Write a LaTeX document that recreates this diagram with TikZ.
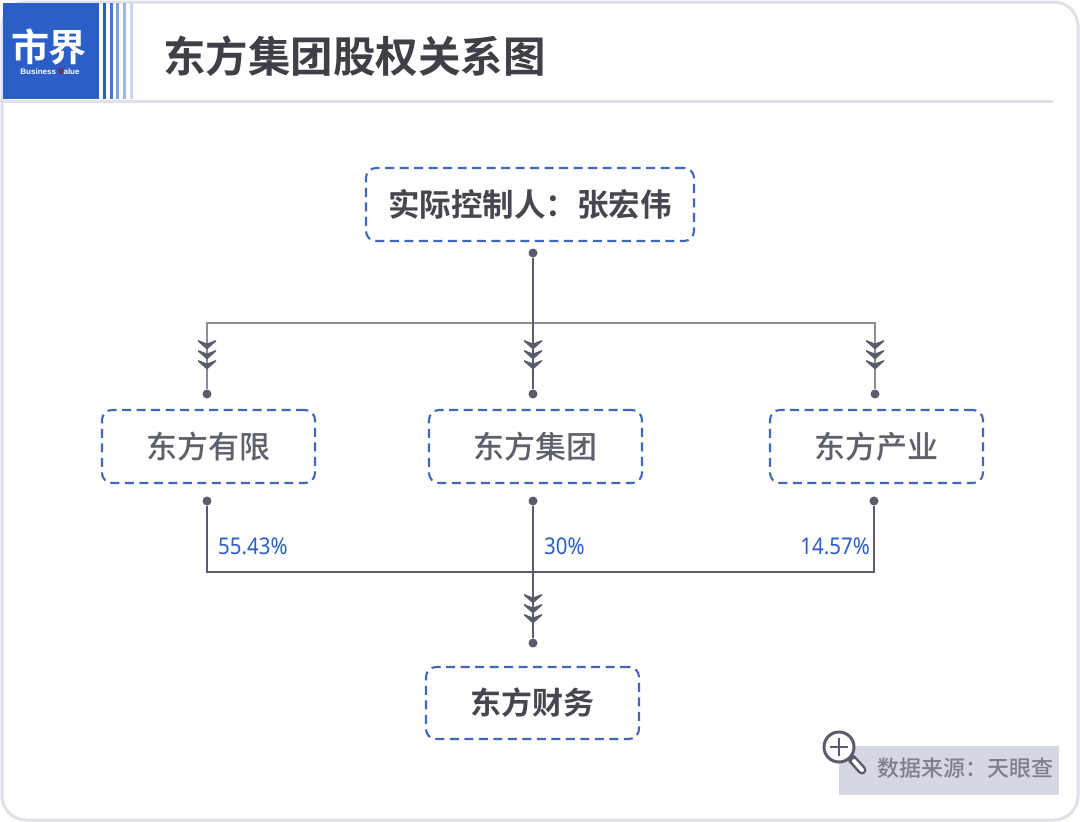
\documentclass[tikz,border=0pt]{standalone}
\usepackage{fontspec}
\setmainfont{Noto Sans}
\newfontfamily\cjk{Noto Sans CJK SC Medium}
\newfontfamily\cjkb{Noto Sans CJK SC Bold}
\newfontfamily\latn{Liberation Sans}
\definecolor{logoblue}{HTML}{2B5FC7}
\definecolor{framegray}{HTML}{DFE0EA}
\definecolor{dashblue}{HTML}{3F67BE}
\definecolor{linegray}{HTML}{5A5C6B}
\definecolor{bargray}{HTML}{8C8D95}
\definecolor{namegray}{HTML}{5E606C}
\definecolor{boldgray}{HTML}{45464F}
\definecolor{srcbox}{HTML}{D5D7E3}
\definecolor{srctext}{HTML}{7E7F8A}
\newcommand{\sz}[1]{\fontsize{#1}{#1}\selectfont}
\tikzset{
  holder/.style={draw=dashblue,line width=2.1pt,dash pattern=on 9pt off 5.5pt,rounded corners=10pt,
    minimum height=73pt,inner sep=0pt,align=center},
  company/.style={holder,minimum width=213pt,text=namegray,font=\cjk\sz{31}},
  topname/.style={holder,text=boldgray,font=\cjkb\sz{31.5}},
  dot/.style={circle,fill=linegray,minimum size=9pt,inner sep=0pt},
  link/.style={draw=linegray,line width=1.2pt},
  share/.style={text=logoblue,font=\sz{23},inner sep=0pt,xscale=0.89}
}
% three stacked chevrons on a line
\newcommand{\chevrons}[2]{
\foreach \d in {0,10,20} {
\fill[linegray] (#1-9,#2+\d) -- (#1,#2+\d+3.5) -- (#1+9,#2+\d) -- (#1+9,#2+\d+1.5) -- (#1,#2+\d+9.5) -- (#1-9,#2+\d+1.5) -- cycle;
}
}
\begin{document}
\begin{tikzpicture}[x=1pt,y=-1pt]
\useasboundingbox (0,0) rectangle (1080,822);
\fill[white] (0,0) rectangle (1080,822);

% frame and header
\draw[framegray,line width=3pt,rounded corners=24pt] (2,2) rectangle (1078,820);
\draw[framegray,line width=3pt] (0,101) -- (1053,101);
\fill[logoblue] (3,3) rectangle (99,99);
\foreach \x/\c in {103/logoblue,110/logoblue!85,116/logoblue!60,123/logoblue!45,130/logoblue!25} {
\fill[\c] (\x,3) rectangle (\x+2.5,99);
}
\node[text=white,font=\cjkb\sz{38},inner sep=0pt] (logo) at (49,47) {市界};
\node[text=white,font=\latn\bfseries\sz{8},inner sep=0pt] (logosub) at (50,72) {Business \textcolor{red!70!black}{V}alue};
\node[anchor=west,text=boldgray!90!black,font=\cjkb\sz{42.5},inner sep=0pt] (title) at (163,56) {东方集团股权关系图};

% boxes
\node[topname,minimum width=328pt] (controller) at (530,204.5) {实际控制人^^^^ff1a张宏伟};
\node[company] (youxian) at (208.5,446.5) {东方有限};
\node[company] (jituan) at (535.5,446.5) {东方集团};
\node[company] (chanye) at (876.5,446.5) {东方产业};
\node[topname,minimum width=213pt,minimum height=72pt,font=\cjkb\sz{31}] (caiwu) at (532.5,703) {东方财务};

% dots
\node[dot] (ctrlout) at (533,253) {};
\node[dot] (youin) at (207,394) {};
\node[dot] (jiin) at (533,394) {};
\node[dot] (chanin) at (875,394) {};
\node[dot] (youout) at (207,501) {};
\node[dot] (jiout) at (533,501) {};
\node[dot] (chanout) at (874,501) {};
\node[dot] (caiin) at (533,643) {};
\coordinate (upbus) at (533,323);
\coordinate (lowbus) at (533,572);

% connectors
\draw[link,draw=bargray] (youin) -- (youin |- upbus) -- (chanin |- upbus) -- (chanin);
\draw[link] (ctrlout) -- (jiin);
\draw[link] (youout) -- (youout |- lowbus) -- (chanout |- lowbus) -- (chanout);
\draw[link] (jiout) -- (caiin);
\chevrons{207}{340}
\chevrons{533}{340}
\chevrons{875}{340}
\chevrons{533}{594}

% shares
\node[share,anchor=west] (s1) at (218,546) {55.43\%};
\node[share,anchor=west] (s2) at (544,546) {30\%};
\node[share,anchor=east] (s3) at (870,546) {14.57\%};

% source tag
\fill[srcbox] (839,746) rectangle (1059,795);
\node[anchor=east,text=srctext,font=\cjk\sz{22},inner sep=0pt] (source) at (1054,768) {数据来源^^^^ff1a天眼查};
\draw[linegray,line width=9pt,line cap=round] (852,759) -- (862,770);
\draw[white,line width=4pt,line cap=round] (854,761) -- (862,770);
\draw[linegray,line width=3pt,fill=white] (839,747) circle (15);
\draw[linegray,line width=1.2pt] (830,747) -- (848,747) (839,738) -- (839,756);
\end{tikzpicture}
\end{document}
